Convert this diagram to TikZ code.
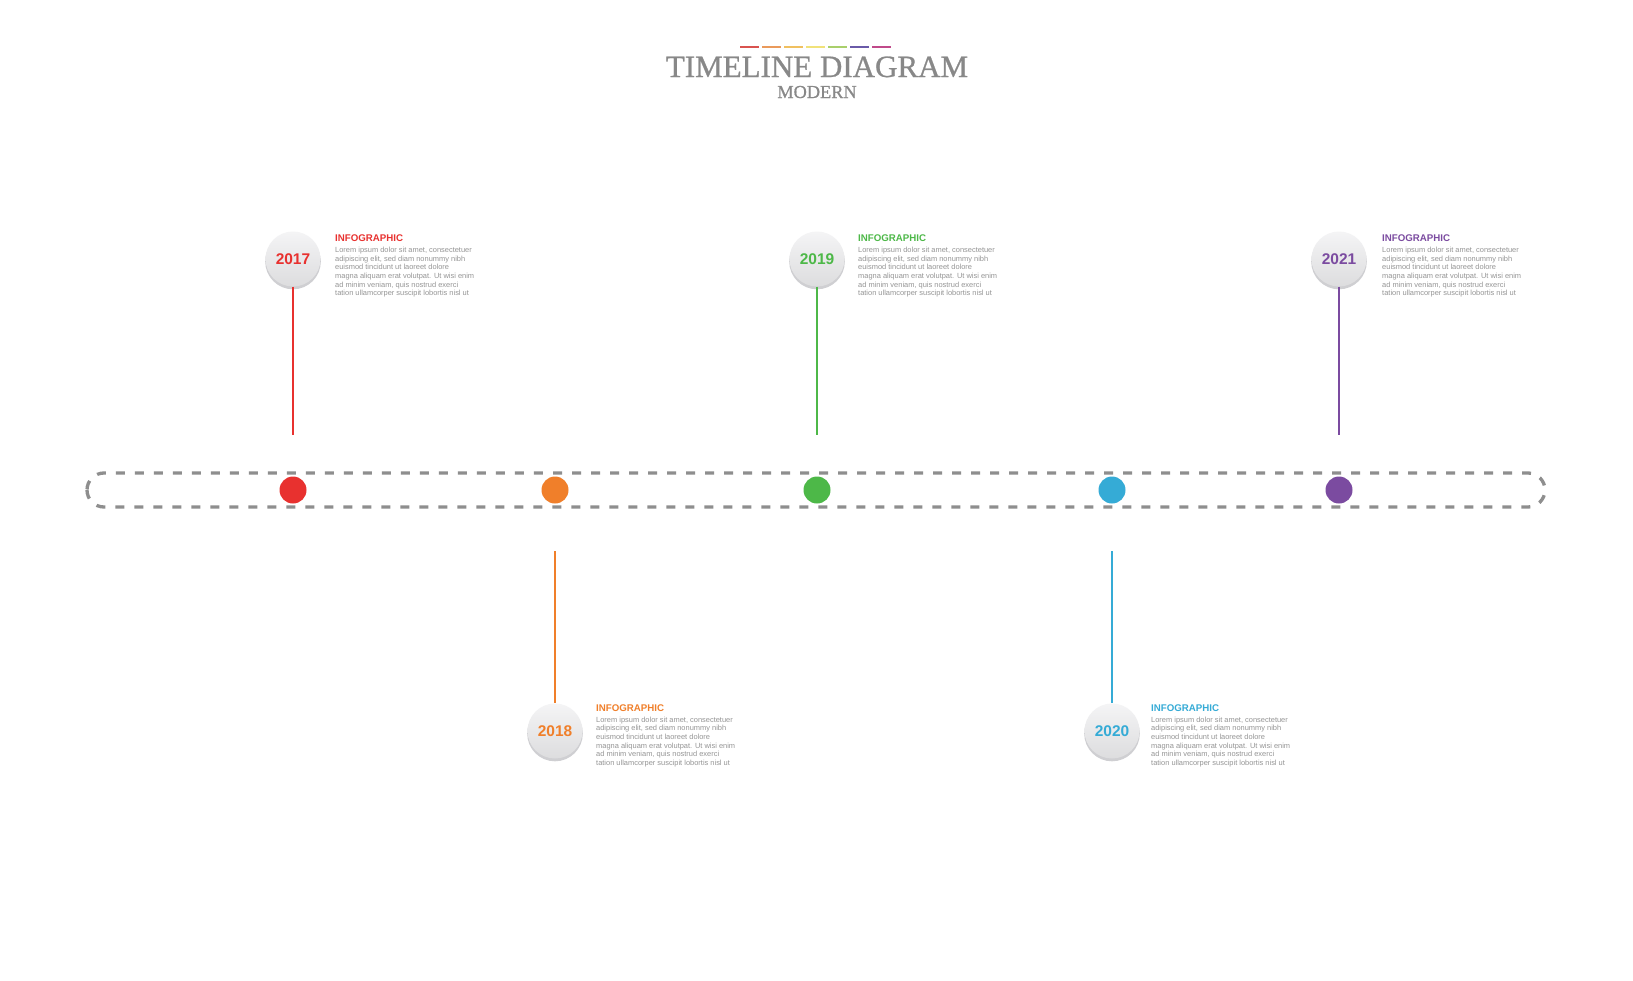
\documentclass[tikz,border=0pt]{standalone}
\usepackage{fontspec}
\setmainfont{Liberation Sans}
\newfontfamily\titlefont[FakeBold=0.8]{Liberation Serif}
\definecolor{cred}{HTML}{E8312F}
\definecolor{corange}{HTML}{F07F2A}
\definecolor{cgreen}{HTML}{4DB848}
\definecolor{cblue}{HTML}{35ABD6}
\definecolor{cpurple}{HTML}{7B4BA0}
\definecolor{dashgray}{HTML}{8E8E8E}
\definecolor{txtgray}{HTML}{959595}
\definecolor{titlegray}{HTML}{888888}
\definecolor{circfill}{HTML}{EDEDEF}
\definecolor{circshadow}{HTML}{CFCFD2}
\definecolor{t1}{HTML}{D9534F}
\definecolor{t2}{HTML}{EA9A5B}
\definecolor{t3}{HTML}{F0C060}
\definecolor{t4}{HTML}{F1E27A}
\definecolor{t5}{HTML}{A9CF6B}
\definecolor{t6}{HTML}{6A5AA8}
\definecolor{t7}{HTML}{C04A8A}
\tikzset{
  yearcirc/.style={circle, minimum size=55pt, inner sep=0pt,
    top color=circfill!60!white, bottom color=circfill!85!gray,
    font=\fontsize{15.5}{15.5}\selectfont\bfseries},
  dotcirc/.style={circle, minimum size=27pt, inner sep=0pt},
  stem/.style={line width=2pt},
  headtxt/.style={anchor=base west, inner sep=0pt, font=\fontsize{9.7}{10}\selectfont\bfseries},
  bodytxt/.style={anchor=base west, inner sep=0pt, text=txtgray, font=\fontsize{7.45}{8}\selectfont},
  titledash/.style={line width=2.5pt}
}
\newcommand{\infoblock}[4]{% x, baseline y of head, color, name
  \node[headtxt, text=#3] (#4h) at (#1, #2) {INFOGRAPHIC};
  \node[bodytxt] (#4a) at (#1, #2+11.3) {Lorem ipsum dolor sit amet, consectetuer};
  \node[bodytxt] (#4b) at (#1, #2+19.95) {adipiscing elit, sed diam nonummy nibh};
  \node[bodytxt] (#4c) at (#1, #2+28.6) {euismod tincidunt ut laoreet dolore};
  \node[bodytxt] (#4d) at (#1, #2+37.25) {magna aliquam erat volutpat. Ut wisi enim};
  \node[bodytxt] (#4e) at (#1, #2+45.9) {ad minim veniam, quis nostrud exerci};
  \node[bodytxt] (#4f) at (#1, #2+54.55) {tation ullamcorper suscipit lobortis nisl ut};
}
\begin{document}
\begin{tikzpicture}[x=1pt,y=-1pt]
\useasboundingbox (0,0) rectangle (1633,980);
\fill[white] (0,0) rectangle (1633,980);
% title
\foreach \c [count=\i from 0] in {t1,t2,t3,t4,t5,t6,t7}{
  \draw[titledash, \c] (740+22*\i,47) -- (759+22*\i,47);
}
\node[anchor=base, inner sep=0pt, text=titlegray, font=\titlefont\fontsize{31}{32}\selectfont] (title) at (817,77) {TIMELINE DIAGRAM};
\node[anchor=base, inner sep=0pt, text=titlegray, font=\titlefont\fontsize{18.3}{19}\selectfont] (subtitle) at (817,98) {MODERN};
% dashed track
\draw[dashgray, line width=3.3pt, dash pattern=on 9pt off 10pt, rounded corners=17pt] (87,473) rectangle (1545,507);
% dots
\node[dotcirc, fill=cred] (d1) at (293,490) {};
\node[dotcirc, fill=corange] (d2) at (555,490) {};
\node[dotcirc, fill=cgreen] (d3) at (817,490) {};
\node[dotcirc, fill=cblue] (d4) at (1112,490) {};
\node[dotcirc, fill=cpurple] (d5) at (1339,490) {};
% upper items
\foreach \x/\yr/\col/\nm in {293/2017/cred/a, 817/2019/cgreen/c, 1339/2021/cpurple/e}{
  \coordinate (\nm s) at (\x,435);
  \fill[circshadow] (\x,261.5) circle (27.8pt);
  \node[yearcirc, text=\col] (\nm y) at (\x,259) {\yr};
  \draw[stem, \col] (\nm y.south) -- (\nm s);
}
% lower items
\foreach \x/\yr/\col/\nm in {555/2018/corange/b, 1112/2020/cblue/d}{
  \coordinate (\nm s) at (\x,551);
  \fill[circshadow] (\x,733.5) circle (27.8pt);
  \node[yearcirc, text=\col] (\nm y) at (\x,731) {\yr};
  \draw[stem, \col] (\nm s) -- (\nm y.north);
}
\infoblock{335}{241.3}{cred}{ia}
\infoblock{858}{241.3}{cgreen}{ic}
\infoblock{1382}{241.3}{cpurple}{ie}
\infoblock{596}{711}{corange}{ib}
\infoblock{1151}{711}{cblue}{id}
\end{tikzpicture}
\end{document}
